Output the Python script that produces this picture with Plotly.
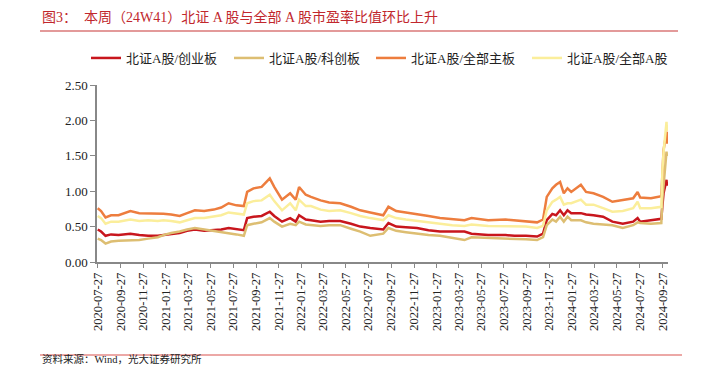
import plotly.graph_objects as go

dates = [
    "2020-07-27", "2020-08-05", "2020-08-17", "2020-09-01", "2020-09-21", "2020-10-15", "2020-10-23",
    "2020-11-16", "2020-12-10", "2021-01-05", "2021-01-20", "2021-02-10", "2021-03-05", "2021-03-25",
    "2021-04-15", "2021-05-10", "2021-06-05", "2021-06-25", "2021-07-15", "2021-08-05", "2021-08-25",
    "2021-09-03", "2021-09-20", "2021-10-12", "2021-11-03", "2021-11-15", "2021-12-06", "2021-12-28",
    "2022-01-12", "2022-01-21", "2022-02-08", "2022-02-22", "2022-03-20", "2022-04-12", "2022-05-12",
    "2022-06-10", "2022-07-05", "2022-08-01", "2022-09-05", "2022-09-19", "2022-10-10", "2022-11-05",
    "2022-12-05", "2023-01-05", "2023-02-05", "2023-03-10", "2023-04-12", "2023-05-01", "2023-06-15",
    "2023-08-01", "2023-08-25", "2023-09-25", "2023-10-25", "2023-11-10", "2023-11-20", "2023-12-05",
    "2023-12-15", "2023-12-26", "2024-01-05", "2024-01-15", "2024-01-25", "2024-02-20", "2024-03-05",
    "2024-03-25", "2024-04-20", "2024-05-15", "2024-06-12", "2024-07-10", "2024-07-22", "2024-07-29",
    "2024-08-27", "2024-09-13", "2024-09-24", "2024-09-27", "2024-09-30", "2024-10-08", "2024-10-09",
    "2024-10-10", "2024-10-11",
]

bse_chinext = [
    0.46, 0.43, 0.37, 0.39, 0.38, 0.40, 0.40, 0.38, 0.37, 0.37, 0.38, 0.39, 0.41, 0.44,
    0.46, 0.44, 0.45, 0.46, 0.48, 0.46, 0.45, 0.62, 0.64, 0.65, 0.71, 0.65, 0.57, 0.62,
    0.57, 0.66, 0.60, 0.59, 0.57, 0.58, 0.58, 0.54, 0.50, 0.48, 0.46, 0.55, 0.50, 0.49,
    0.48, 0.45, 0.43, 0.43, 0.43, 0.40, 0.38, 0.38, 0.37, 0.37, 0.36, 0.40, 0.59, 0.68,
    0.66, 0.73, 0.66, 0.73, 0.69, 0.69, 0.67, 0.66, 0.64, 0.57, 0.54, 0.57, 0.62, 0.57,
    0.59, 0.60, 0.61, 0.80, 0.97, 1.16, 1.08, 1.12, 1.13,
]

bse_star = [
    0.33, 0.31, 0.26, 0.29, 0.30, 0.30, 0.31, 0.31, 0.33, 0.35, 0.38, 0.41, 0.43, 0.46,
    0.48, 0.46, 0.44, 0.43, 0.41, 0.39, 0.37, 0.52, 0.54, 0.56, 0.62, 0.57, 0.50, 0.54,
    0.52, 0.57, 0.53, 0.52, 0.51, 0.52, 0.52, 0.47, 0.43, 0.37, 0.40, 0.48, 0.44, 0.42,
    0.40, 0.38, 0.37, 0.34, 0.31, 0.35, 0.34, 0.34, 0.33, 0.32, 0.31, 0.35, 0.52, 0.60,
    0.57, 0.64, 0.57, 0.64, 0.59, 0.59, 0.56, 0.54, 0.53, 0.52, 0.48, 0.52, 0.56, 0.55,
    0.54, 0.54, 0.55, 0.90, 1.08, 1.56, 1.50, 1.53, 1.53,
]

bse_main = [
    0.76, 0.72, 0.63, 0.66, 0.66, 0.70, 0.72, 0.69, 0.69, 0.68, 0.68, 0.67, 0.65, 0.69,
    0.73, 0.72, 0.74, 0.77, 0.83, 0.80, 0.79, 0.99, 1.04, 1.06, 1.18, 1.06, 0.88, 0.97,
    0.88, 1.06, 0.95, 0.92, 0.87, 0.84, 0.83, 0.78, 0.73, 0.70, 0.66, 0.78, 0.72, 0.70,
    0.68, 0.65, 0.62, 0.60, 0.59, 0.62, 0.59, 0.60, 0.59, 0.58, 0.56, 0.60, 0.92, 1.04,
    1.09, 1.13, 0.97, 1.04, 0.99, 1.09, 0.99, 0.97, 0.92, 0.85, 0.87, 0.90, 0.99, 0.91,
    0.90, 0.92, 0.93, 1.25, 1.58, 1.84, 1.67, 1.80, 1.84,
]

bse_all_a = [
    0.65, 0.62, 0.54, 0.57, 0.57, 0.59, 0.60, 0.58, 0.59, 0.58, 0.59, 0.58, 0.56, 0.59,
    0.62, 0.62, 0.64, 0.66, 0.70, 0.68, 0.67, 0.83, 0.86, 0.87, 0.95, 0.86, 0.73, 0.83,
    0.73, 0.88, 0.79, 0.79, 0.74, 0.72, 0.73, 0.69, 0.65, 0.62, 0.59, 0.66, 0.62, 0.60,
    0.58, 0.56, 0.54, 0.52, 0.51, 0.53, 0.51, 0.51, 0.51, 0.50, 0.48, 0.51, 0.73, 0.85,
    0.88, 0.92, 0.81, 0.83, 0.83, 0.88, 0.81, 0.81, 0.76, 0.71, 0.72, 0.76, 0.85, 0.76,
    0.76, 0.77, 0.78, 1.30, 1.55, 1.98, 1.85, 1.92, 1.90,
]

series_names = ["北证A股/创业板", "北证A股/科创板", "北证A股/全部主板", "北证A股/全部A股"]
series_colors = ["#C8161D", "#DDBE72", "#ED7D3E", "#FBEE9B"]

x_ticks = [
    "2020-07-27", "2020-09-27", "2020-11-27", "2021-01-27", "2021-03-27", "2021-05-27", "2021-07-27",
    "2021-09-27", "2021-11-27", "2022-01-27", "2022-03-27", "2022-05-27", "2022-07-27", "2022-09-27",
    "2022-11-27", "2023-01-27", "2023-03-27", "2023-05-27", "2023-07-27", "2023-09-27", "2023-11-27",
    "2024-01-27", "2024-03-27", "2024-05-27", "2024-07-27", "2024-09-27",
]
y_ticks = [0.0, 0.5, 1.0, 1.5, 2.0, 2.5]

FONT = "Times New Roman, Liberation Serif, Noto Sans CJK SC, serif"

L, R, T, B = 97, 33, 85, 106
W, H = 701, 368
pw, ph = W - L - R, H - T - B

def px_x(p):
    return (p - L) / pw

def px_y(p):
    return (H - B - p) / ph

legend_ids = ["legend", "legend2", "legend3", "legend4"]
legend_px = [86, 229, 371, 527]

fig = go.Figure()
for name, vals, col, lid in zip(series_names, [bse_chinext, bse_star, bse_main, bse_all_a],
                                series_colors, legend_ids):
    fig.add_trace(go.Scatter(x=dates, y=vals, name=name, mode="lines", legend=lid,
                             line=dict(color=col, width=2.5)))

legends = {}
for lid, lx in zip(legend_ids, legend_px):
    legends[lid] = dict(orientation="h", xref="container", yref="container",
                        x=lx / W, y=1 - 58 / H, xanchor="left", yanchor="middle",
                        font=dict(size=13, color="#222", family=FONT), itemwidth=30,
                        bgcolor="rgba(0,0,0,0)")

fig.update_layout(
    width=W, height=H,
    margin=dict(l=L, r=R, t=T, b=B, autoexpand=False),
    plot_bgcolor="white", paper_bgcolor="white",
    font=dict(family=FONT, size=13, color="#222"),
    showlegend=True,
    xaxis=dict(type="date", range=["2020-07-25", "2024-10-12"],
               tickvals=x_ticks, ticktext=x_ticks, tickangle=-90,
               showgrid=False, zeroline=False, showline=True, linecolor="#888", linewidth=1.5,
               ticks="outside", ticklen=4, tickcolor="#888",
               tickfont=dict(size=12.5, family=FONT, color="#222")),
    yaxis=dict(range=[0, 2.5], tickvals=y_ticks, tickformat=".2f",
               showgrid=False, zeroline=False, showline=True, linecolor="#888", linewidth=1.5,
               ticks="outside", ticklen=5, tickcolor="#888",
               tickfont=dict(size=13, family=FONT, color="#222")),
    shapes=[
        dict(type="line", xref="paper", yref="paper", x0=px_x(40), x1=px_x(678),
             y0=px_y(31), y1=px_y(31), line=dict(color="#E39A9A", width=2)),
        dict(type="line", xref="paper", yref="paper", x0=px_x(40), x1=px_x(682),
             y0=px_y(355), y1=px_y(355), line=dict(color="#D9534F", width=1.2)),
    ],
    annotations=[
        dict(text="图3：  本周（24W41）北证 A 股与全部 A 股市盈率比值环比上升",
             xref="paper", yref="paper", x=px_x(40), y=px_y(17), xanchor="left", yanchor="middle",
             showarrow=False, font=dict(size=14, color="#C1272D", family=FONT)),
        dict(text="资料来源：Wind，光大证券研究所",
             xref="paper", yref="paper", x=px_x(40), y=px_y(367), xanchor="left", yanchor="bottom",
             showarrow=False, font=dict(size=10.5, color="#222", family=FONT)),
    ],
    **legends,
)

fig.write_html("out.html", config={"displayModeBar": False},
               post_script="document.body.style.margin='0';")
